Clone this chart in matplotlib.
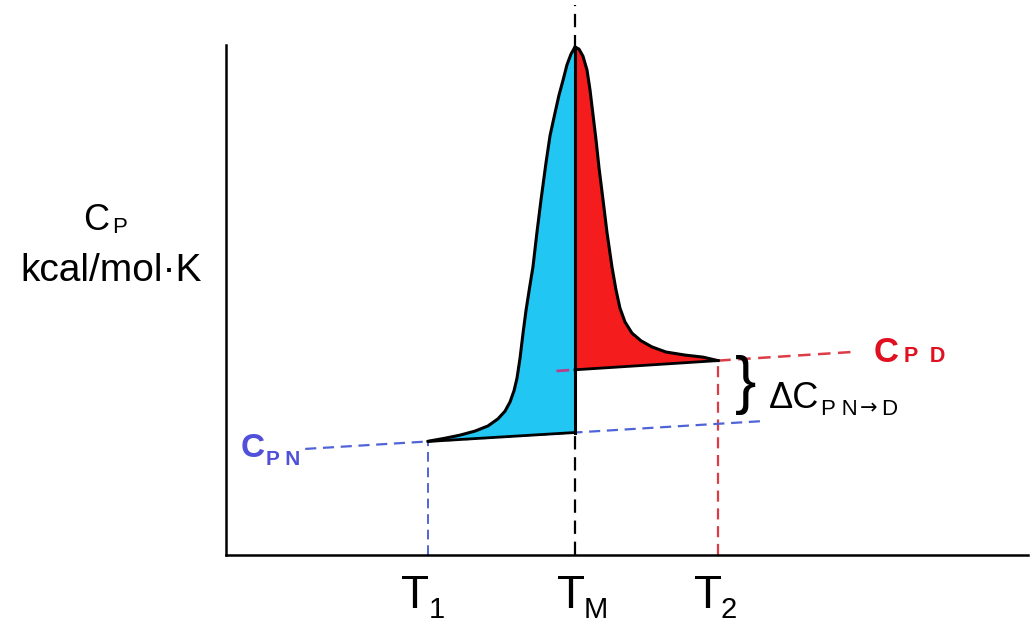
import numpy as np
import matplotlib.pyplot as plt

plt.rcParams['font.family'] = ['Liberation Sans', 'DejaVu Sans']

# transition temperatures (arbitrary units)
T1 = 20.15
TM = 34.81
T2 = 49.1

# native and denatured baselines (end points)
native_T = [7.9, 53.9]
native_Cp = [2.08, 2.63]
denat_T = [33.1, 62.4]
denat_Cp = [3.61, 3.98]

# heat capacity curve, rising side (T1 -> TM) and falling side (TM -> T2)
rise_T = [20.15, 21.85, 23.34, 24.84, 26.13, 27.13, 27.83, 28.33, 28.73,
          29.03, 29.33, 29.63, 29.93, 30.32, 30.62, 31.02, 31.42, 31.92,
          32.32, 32.82, 33.22, 33.62, 34.01, 34.41, 34.81]
rise_Cp = [2.23, 2.29, 2.35, 2.43, 2.53, 2.67, 2.82, 3.00, 3.22,
           3.47, 3.86, 4.35, 4.80, 5.29, 5.65, 6.33, 6.96, 7.69,
           8.22, 8.67, 9.02, 9.31, 9.61, 9.82, 9.96]
fall_T = [34.81, 35.21, 35.61, 36.01, 36.31, 36.61, 36.91, 37.21, 37.61,
          38.00, 38.50, 38.90, 39.30, 39.80, 40.50, 41.40, 42.49, 43.89,
          45.79, 47.58, 49.10]
fall_Cp = [9.96, 9.92, 9.78, 9.51, 9.12, 8.63, 8.14, 7.59, 6.96,
           6.33, 5.65, 5.20, 4.84, 4.57, 4.35, 4.20, 4.08, 3.98,
           3.92, 3.88, 3.81]

cyan = '#22c6f2'
red = '#f41c1c'
blue_dash = '#5064d8'
red_dash = '#dc3c46'


def base_n(t):
    return np.interp(t, native_T, native_Cp)


def base_d(t):
    return np.interp(t, denat_T, denat_Cp)


fig = plt.figure(figsize=(10.3, 6.23), dpi=100)
ax = fig.add_axes([226 / 1030, 68 / 623, 802 / 1030, 510 / 623])
ax.set_xlim(0, 80)
ax.set_ylim(0, 10)
for s in ['top', 'right']:
    ax.spines[s].set_visible(False)
for s in ['left', 'bottom']:
    ax.spines[s].set_linewidth(1.8)
ax.set_xticks([])
ax.set_yticks([])

# dashed guide lines
ax.plot([TM, TM], [0, 10.78], color='black', lw=1.6, ls=(0, (6, 3.5)),
        zorder=1, clip_on=False)
ax.plot([T1, T1], [0, base_n(T1)], color=blue_dash, lw=1.4, ls=(0, (5, 3)), zorder=1)
ax.plot([T2, T2], [0, base_d(T2)], color=red_dash, lw=1.6, ls=(0, (5, 3)), zorder=1)
ax.plot(native_T, native_Cp, color=blue_dash, lw=1.6, ls=(0, (5, 3)), zorder=1)
ax.plot([T2, denat_T[1]], [base_d(T2), denat_Cp[1]], color=red_dash, lw=1.8,
        ls=(0, (5, 3)), zorder=1)

# filled areas
ax.fill_between(rise_T, rise_Cp, base_n(rise_T), color=cyan, lw=0, zorder=2)
ax.fill_between(fall_T, fall_Cp, base_d(fall_T), color=red, lw=0, zorder=2)

# black outlines
ax.plot(rise_T, rise_Cp, color='black', lw=2.2, zorder=3, solid_capstyle='round')
ax.plot(fall_T, fall_Cp, color='black', lw=2.2, zorder=3, solid_capstyle='round')
ax.plot([TM, TM], [base_n(TM), rise_Cp[-1]], color='black', lw=2.2, zorder=3)
ax.plot([T1, TM], base_n([T1, TM]), color='black', lw=2.0, zorder=3)
ax.plot([TM, T2], base_d([TM, T2]), color='black', lw=2.0, zorder=3)

# short piece of the denatured baseline left of TM
ax.plot([denat_T[0], denat_T[0] + 1.0], base_d([denat_T[0], denat_T[0] + 1.0]),
        color='#b8408a', lw=2.0, zorder=4)

# y label
ax.text(-11.6, 6.37, 'C', fontsize=26, ha='right', va='baseline', clip_on=False)
ax.text(-11.4, 6.31, 'P', fontsize=16, ha='left', va='baseline', clip_on=False)
ax.text(-11.5, 5.37, 'kcal/mol\u00b7K', fontsize=28, ha='center', va='baseline',
        clip_on=False)

# temperature labels
for t, sub, tx, sx, y in [(T1, '1', 18.85, 20.25, -1.04),
                          (TM, 'M', 34.41, 35.71, -1.04),
                          (T2, '2', 48.08, 49.28, -1.04)]:
    ax.text(tx, y, 'T', fontsize=33, ha='center', va='baseline', clip_on=False)
    ax.text(sx, y - 0.2, sub, fontsize=21, ha='left', va='baseline', clip_on=False)

# baseline labels
ax.text(1.5, 1.92, 'C', fontsize=24, fontweight='bold', color='#5050d8',
        va='baseline')
ax.text(4.0, 1.76, 'P N', fontsize=15, fontweight='bold', color='#5050d8',
        va='baseline')
ax.text(64.6, 3.78, 'C', fontsize=25, fontweight='bold', color='#e01020',
        va='baseline')
ax.text(67.6, 3.78, 'P  D', fontsize=15.5, fontweight='bold', color='#e01020',
        va='baseline')

# delta Cp annotation
ax.text(51.8, 3.33, '}', fontsize=46, ha='center', va='center')
ax.text(54.2, 2.88, '\u0394C', fontsize=26, va='baseline')
ax.text(59.4, 2.75, 'P N', fontsize=16, va='baseline')
ax.text(63.2, 2.75, '\u2192', fontsize=15, va='baseline', family='DejaVu Sans')
ax.text(65.3, 2.75, 'D', fontsize=16, va='baseline')

fig.savefig('out.png', dpi=100)
